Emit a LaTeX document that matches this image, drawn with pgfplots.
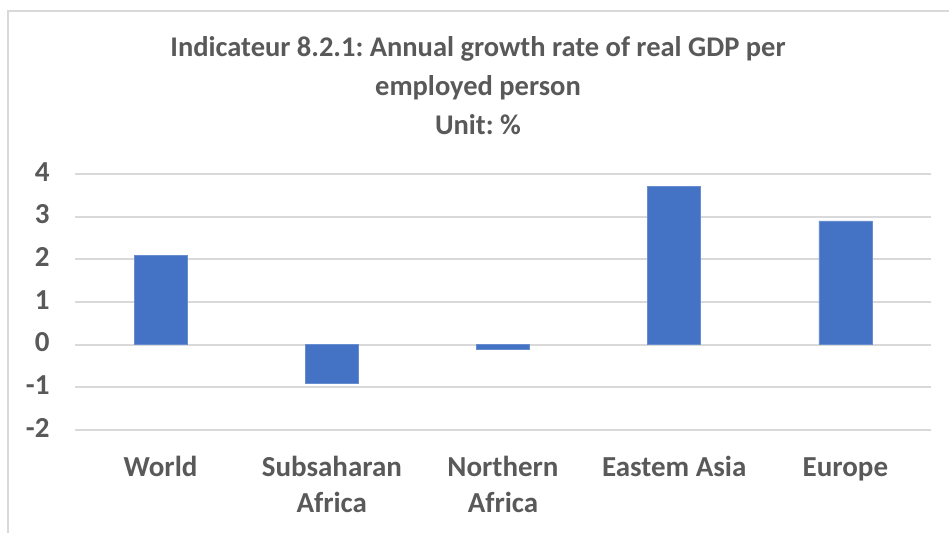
\documentclass[border=0pt]{standalone}
\usepackage{pgfplots}
\pgfplotsset{compat=1.18}
\usepackage{fontspec}
\setmainfont{Carlito}
\frenchspacing
\definecolor{barblue}{HTML}{4472C4}
\definecolor{txtgray}{HTML}{595959}
\definecolor{gridgray}{HTML}{D9D9D9}
\begin{document}
\begin{tikzpicture}[x=1pt,y=1pt]
\path[use as bounding box] (0,0) rectangle (949,533);
\draw[gridgray, line width=1.8pt] (8,0) -- (8,522) -- (949,522);
\node[align=center, font=\fontsize{28.5}{39}\selectfont\bfseries, text=txtgray] at (478,447)
  {Indicateur 8.2.1: Annual growth rate of real GDP per\\employed person\\Unit: \%};
\begin{axis}[
  at={(75pt,103pt)}, anchor=south west,
  scale only axis, width=856pt, height=256pt,
  ymin=-2, ymax=4, xmin=-0.5, xmax=4.5,
  ytick={-2,-1,0,1,2,3,4},
  yticklabels={-2,-1,0,1,2,3,4},
  xtick={0,1,2,3,4},
  xticklabels={World, Subsaharan\\Africa, Northern\\Africa, Eastem Asia, Europe},
  typeset ticklabels with strut,
  axis line style={draw=none},
  major tick length=0pt,
  ymajorgrids, major grid style={gridgray, line width=1.8pt},
  tick label style={font=\fontsize{29}{36}\selectfont\bfseries, text=txtgray},
  xticklabel style={align=center, anchor=north, yshift=-18pt},
  yticklabel style={anchor=east, xshift=-22pt},
  ybar, bar width=53pt,
]
\addplot[fill=barblue, draw=barblue!80!white, line width=0.6pt] coordinates {(0,2.1) (1,-0.9) (2,-0.1) (3,3.7) (4,2.9)};
\end{axis}
\end{tikzpicture}
\end{document}
